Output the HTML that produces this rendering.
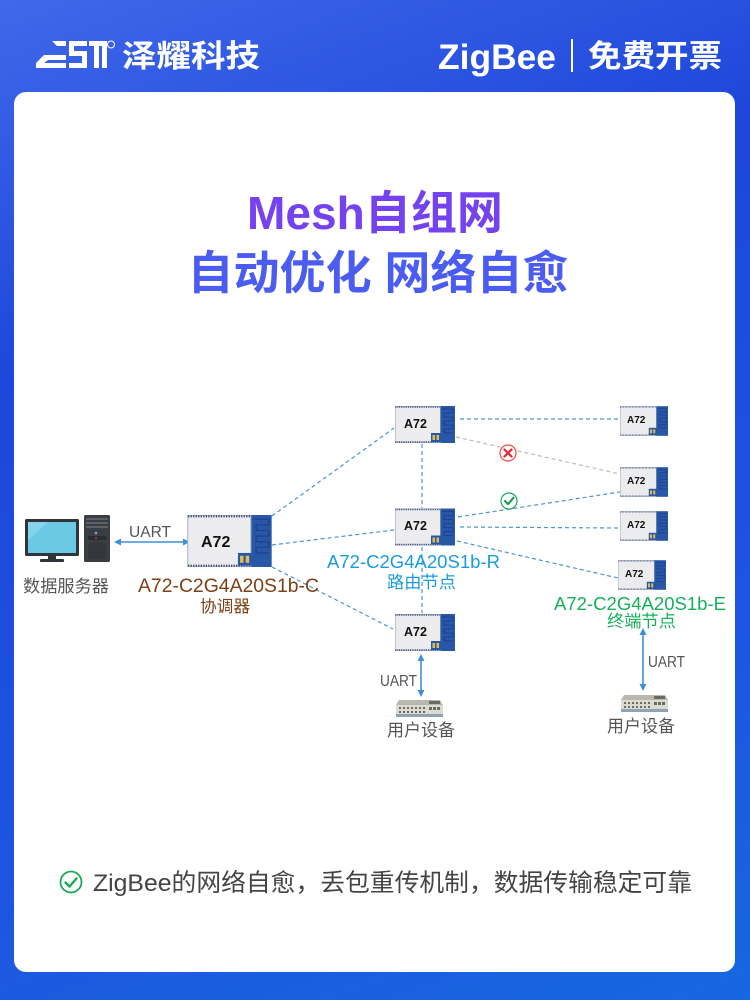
<!DOCTYPE html>
<html><head><meta charset="utf-8"><style>
html,body{margin:0;padding:0;}
body{width:750px;height:1000px;overflow:hidden;background:linear-gradient(160deg,#4068ea 0%,#1d47da 30%,#1d55e0 70%,#1767e0 100%);}
svg{display:block;}
</style></head><body>
<svg width="750" height="1000" viewBox="0 0 750 1000" xmlns="http://www.w3.org/2000/svg">
<defs>
<symbol id="chip" viewBox="0 0 60 37">
  <rect x="0" y="0" width="60" height="37" fill="#ececee"/>
  <rect x="45" y="0" width="15" height="37" fill="#2857a6"/>
  <path d="M47 3h11v4h-9v4h9v4h-9v4h9v4h-9v4h9" fill="none" stroke="#1c4290" stroke-width="1"/>
  <rect x="0.3" y="0.3" width="45" height="36.4" fill="none" stroke="#9aa6bf" stroke-width="0.6"/>
  <line x1="0.5" y1="1" x2="45" y2="1" stroke="#2c3f70" stroke-width="1.4" stroke-dasharray="0.9 0.9"/>
  <line x1="0.5" y1="36" x2="45" y2="36" stroke="#2c3f70" stroke-width="1.4" stroke-dasharray="0.9 0.9"/>
  <rect x="36" y="27" width="10" height="9" fill="#2857a6"/>
  <rect x="37.5" y="29" width="2.5" height="5" fill="#e0bd55"/>
  <rect x="41.5" y="29" width="2.5" height="5" fill="#e0bd55"/>
</symbol>
<symbol id="dev" viewBox="0 0 47 17">
  <path d="M3 0H44L47 5H0Z" fill="#b9b8ae"/>
  <rect x="0" y="5" width="47" height="9" fill="#dcdbd2"/>
  <rect x="0" y="14" width="47" height="3" fill="#8fa3b4"/>
  <g fill="#6b6b66">
    <rect x="3" y="7" width="2" height="2"/><rect x="7" y="7" width="2" height="2"/><rect x="11" y="7" width="2" height="2"/><rect x="15" y="7" width="2" height="2"/><rect x="19" y="7" width="2" height="2"/><rect x="23" y="7" width="2" height="2"/><rect x="27" y="7" width="2" height="2"/>
    <rect x="3" y="11" width="2" height="2"/><rect x="7" y="11" width="2" height="2"/><rect x="11" y="11" width="2" height="2"/><rect x="15" y="11" width="2" height="2"/><rect x="19" y="11" width="2" height="2"/><rect x="23" y="11" width="2" height="2"/><rect x="27" y="11" width="2" height="2"/>
    <rect x="33" y="1" width="11" height="3"/>
    <rect x="33" y="7" width="3" height="3"/><rect x="37" y="7" width="3" height="3"/><rect x="41" y="7" width="3" height="3"/>
  </g>
</symbol>
</defs>

<!-- header -->
<g fill="#fff">
  <path d="M52 41h14v5h-9z"/>
  <path d="M36 63l8-8h22v5H48l-4 3h22v5H36z"/>
  <path d="M69 41h18v5H74v5h13v17H69v-5h13v-7H69z"/>
  <path d="M89 41h18v27h-5V46h-3v22h-5V46h-5z"/>
  <circle cx="111" cy="44.5" r="3.5" fill="none" stroke="#fff" stroke-width="1"/>
</g>
<text x="122" y="67" font-family="'Liberation Sans','Noto Sans CJK SC',sans-serif" font-weight="700" font-size="31" fill="#fff" textLength="138" lengthAdjust="spacingAndGlyphs">泽耀科技</text>
<text x="438" y="69" font-family="'Liberation Sans',sans-serif" font-weight="700" font-size="35" fill="#fff" textLength="118" lengthAdjust="spacingAndGlyphs">ZigBee</text>
<rect x="571" y="39" width="2" height="33" fill="#fff"/>
<text x="588" y="67" font-family="'Liberation Sans','Noto Sans CJK SC',sans-serif" font-weight="700" font-size="31" fill="#fff" textLength="134" lengthAdjust="spacingAndGlyphs">免费开票</text>

<!-- card -->
<rect x="14" y="92" width="721" height="880" rx="12" ry="12" fill="#fff"/>

<!-- titles -->
<text x="375" y="229" text-anchor="middle" font-family="'Liberation Sans','Noto Sans CJK SC',sans-serif" font-weight="700" font-size="46" fill="#7442ee" textLength="256" lengthAdjust="spacingAndGlyphs">Mesh自组网</text>
<text x="378" y="289" text-anchor="middle" font-family="'Liberation Sans','Noto Sans CJK SC',sans-serif" font-weight="700" font-size="46" fill="#4a5cf2" textLength="381" lengthAdjust="spacingAndGlyphs">自动优化 网络自愈</text>

<!-- connectors -->
<g fill="none" stroke="#4d93d4" stroke-width="1.2" stroke-dasharray="4 3">
  <line x1="272" y1="516" x2="394" y2="428"/>
  <line x1="272" y1="545" x2="394" y2="530"/>
  <line x1="272" y1="567" x2="393" y2="629"/>
  <line x1="460" y1="419" x2="620" y2="419"/>
  <line x1="458" y1="517" x2="620" y2="492"/>
  <line x1="460" y1="527" x2="620" y2="528"/>
  <line x1="457" y1="541" x2="618" y2="578"/>
  <line x1="422" y1="444" x2="422" y2="508"/>
  <line x1="422" y1="547" x2="422" y2="613"/>
</g>
<line x1="456" y1="437" x2="620" y2="474" stroke="#bcbcbc" stroke-width="1.2" stroke-dasharray="4 3"/>

<!-- status icons -->
<circle cx="508" cy="453" r="8" fill="#fff" stroke="#f04848" stroke-width="1.2"/>
<path d="M504.5 449.5l7 7M511.5 449.5l-7 7" stroke="#e8262a" stroke-width="2.2" stroke-linecap="round"/>
<circle cx="509" cy="501" r="8" fill="#fff" stroke="#22a35a" stroke-width="1.2"/>
<path d="M505 501l3 3.2 5.5-6.5" fill="none" stroke="#13954a" stroke-width="2" stroke-linecap="round" stroke-linejoin="round"/>

<!-- UART arrows -->
<g stroke="#3f8fd6" stroke-width="1.6" fill="#3f8fd6">
  <line x1="120" y1="542" x2="184" y2="542"/>
  <path d="M114 542l7-3.5v7z" stroke="none"/>
  <path d="M190 542l-7-3.5v7z" stroke="none"/>
  <line x1="421" y1="660" x2="421" y2="691"/>
  <path d="M421 654l-3.5 7h7z" stroke="none"/>
  <path d="M421 697l-3.5-7h7z" stroke="none"/>
  <line x1="643" y1="634" x2="643" y2="685"/>
  <path d="M643 628l-3.5 7h7z" stroke="none"/>
  <path d="M643 691l-3.5-7h7z" stroke="none"/>
</g>

<!-- chips -->
<use href="#chip" x="187" y="515" width="85" height="52" preserveAspectRatio="none"/>
<text x="201" y="547" font-family="'Liberation Sans',sans-serif" font-weight="700" font-size="16" fill="#111">A72</text>

<use href="#chip" x="395" y="406" width="60" height="37" preserveAspectRatio="none"/>
<text x="404" y="428" font-family="'Liberation Sans',sans-serif" font-weight="700" font-size="12.5" fill="#111">A72</text>
<use href="#chip" x="395" y="508" width="60" height="38" preserveAspectRatio="none"/>
<text x="404" y="530" font-family="'Liberation Sans',sans-serif" font-weight="700" font-size="12.5" fill="#111">A72</text>
<use href="#chip" x="395" y="613" width="60" height="39" preserveAspectRatio="none"/>
<text x="404" y="636" font-family="'Liberation Sans',sans-serif" font-weight="700" font-size="12.5" fill="#111">A72</text>

<use href="#chip" x="620" y="406" width="48" height="30" preserveAspectRatio="none"/>
<text x="627" y="423" font-family="'Liberation Sans',sans-serif" font-weight="700" font-size="10" fill="#111">A72</text>
<use href="#chip" x="620" y="467" width="48" height="30" preserveAspectRatio="none"/>
<text x="627" y="484" font-family="'Liberation Sans',sans-serif" font-weight="700" font-size="10" fill="#111">A72</text>
<use href="#chip" x="620" y="511" width="48" height="30" preserveAspectRatio="none"/>
<text x="627" y="528" font-family="'Liberation Sans',sans-serif" font-weight="700" font-size="10" fill="#111">A72</text>
<use href="#chip" x="618" y="560" width="48" height="30" preserveAspectRatio="none"/>
<text x="625" y="577" font-family="'Liberation Sans',sans-serif" font-weight="700" font-size="10" fill="#111">A72</text>

<!-- server -->
<rect x="25" y="519" width="54" height="37" rx="1.5" fill="#2f3438"/>
<rect x="28" y="522" width="48" height="31" fill="#6cc9e6"/>
<path d="M28 522h20l-20 18z" fill="#86d4ec"/>
<rect x="48" y="556" width="8" height="4" fill="#2f3438"/>
<rect x="40" y="559" width="24" height="3" rx="1" fill="#2f3438"/>
<rect x="84" y="515" width="26" height="47" rx="1.5" fill="#3a3e42"/>
<rect x="86" y="518" width="22" height="2" fill="#5b6066"/>
<rect x="86" y="522" width="22" height="2" fill="#5b6066"/>
<rect x="86" y="526" width="22" height="2" fill="#5b6066"/>
<circle cx="96" cy="533" r="1.3" fill="#4fb3f0"/>
<rect x="88" y="536" width="18" height="4" fill="#2b2e31"/>
<circle cx="96" cy="538" r="0.9" fill="#e04040"/>
<rect x="88" y="543" width="18" height="16" rx="3" fill="#33373b"/>

<!-- user devices -->
<use href="#dev" x="396" y="700" width="47" height="17" preserveAspectRatio="none"/>
<use href="#dev" x="621" y="695" width="47" height="17" preserveAspectRatio="none"/>

<!-- labels -->
<g font-family="'Liberation Sans','Noto Sans CJK SC',sans-serif">
  <text x="129" y="537" font-size="16" fill="#555" textLength="42" lengthAdjust="spacingAndGlyphs">UART</text>
  <text x="23" y="592" font-size="17" fill="#555" textLength="86" lengthAdjust="spacingAndGlyphs">数据服务器</text>
  <text x="138" y="592" font-size="19.5" fill="#7e3f17" textLength="181" lengthAdjust="spacingAndGlyphs">A72-C2G4A20S1b-C</text>
  <text x="200" y="612" font-size="16.5" fill="#7e3f17" textLength="50" lengthAdjust="spacingAndGlyphs">协调器</text>
  <text x="327" y="568" font-size="18.5" fill="#1c9ae0" textLength="173" lengthAdjust="spacingAndGlyphs">A72-C2G4A20S1b-R</text>
  <text x="387" y="588" font-size="17" fill="#1c9ae0" textLength="69" lengthAdjust="spacingAndGlyphs">路由节点</text>
  <text x="554" y="610" font-size="18.5" fill="#17b05a" textLength="172" lengthAdjust="spacingAndGlyphs">A72-C2G4A20S1b-E</text>
  <text x="607" y="627" font-size="17" fill="#17b05a" textLength="69" lengthAdjust="spacingAndGlyphs">终端节点</text>
  <text x="380" y="686" font-size="15.5" fill="#555" textLength="37" lengthAdjust="spacingAndGlyphs">UART</text>
  <text x="648" y="667" font-size="15.5" fill="#555" textLength="37" lengthAdjust="spacingAndGlyphs">UART</text>
  <text x="387" y="736" font-size="17" fill="#555" textLength="68" lengthAdjust="spacingAndGlyphs">用户设备</text>
  <text x="607" y="732" font-size="17" fill="#555" textLength="68" lengthAdjust="spacingAndGlyphs">用户设备</text>
</g>

<!-- bottom note -->
<circle cx="71" cy="882" r="10.5" fill="none" stroke="#1aa955" stroke-width="1.8"/>
<path d="M65.5 882.5l4 4 7-8" fill="none" stroke="#1aa955" stroke-width="2.4" stroke-linecap="round" stroke-linejoin="round"/>
<text x="93" y="891" font-family="'Liberation Sans','Noto Sans CJK SC',sans-serif" font-size="24.5" fill="#444" textLength="599" lengthAdjust="spacingAndGlyphs">ZigBee的网络自愈，丢包重传机制，数据传输稳定可靠</text>
</svg>
</body></html>
